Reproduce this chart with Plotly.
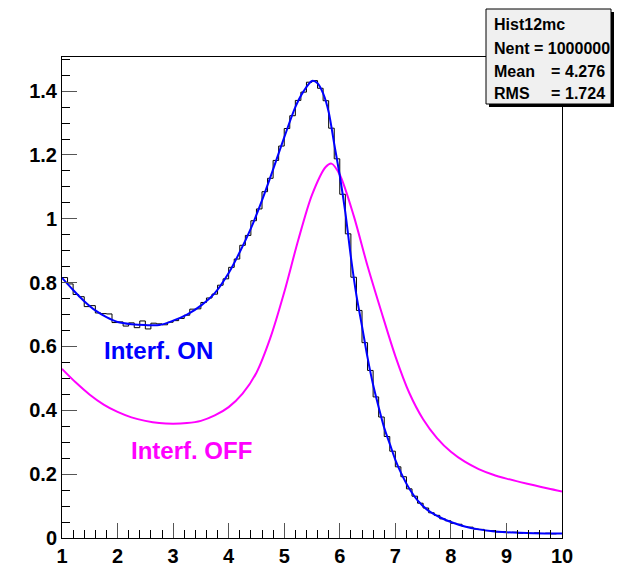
import plotly.graph_objects as go

# ---------------- data ----------------
# fitted curve with interference (blue)
on_x = [1.0, 1.2, 1.4, 1.6, 1.8, 2.0, 2.25, 2.5, 2.75, 3.0, 3.25, 3.5, 3.75, 4.0, 4.2, 4.4,
        4.6, 4.8, 5.0, 5.2, 5.35, 5.5, 5.6, 5.7, 5.8, 5.9, 6.0, 6.1, 6.2, 6.3, 6.4, 6.5,
        6.6, 6.7, 6.8, 6.9, 7.0, 7.1, 7.25, 7.4, 7.6, 7.8, 8.0, 8.25, 8.5, 8.75, 9.0, 9.5, 10.0]
on_y = [0.815, 0.777, 0.742, 0.713, 0.692, 0.677, 0.670, 0.667, 0.667, 0.681, 0.700, 0.728,
        0.767, 0.830, 0.896, 0.970, 1.058, 1.155, 1.255, 1.350, 1.400, 1.432, 1.425, 1.393,
        1.335, 1.235, 1.135, 1.020, 0.880, 0.760, 0.664, 0.565, 0.480, 0.410, 0.345, 0.295,
        0.245, 0.205, 0.155, 0.118, 0.085, 0.065, 0.050, 0.036, 0.027, 0.021, 0.018, 0.015, 0.014]

# curve without interference (magenta)
off_x = [1.0, 1.25, 1.5, 1.75, 2.0, 2.25, 2.5, 2.75, 3.0, 3.25, 3.5, 3.75, 4.0, 4.25, 4.5,
         4.75, 5.0, 5.25, 5.5, 5.75, 5.85, 6.0, 6.25, 6.5, 6.75, 7.0, 7.25,
         7.5, 7.75, 8.0, 8.25, 8.5, 8.75, 9.0, 9.25, 9.5, 9.75, 10.0]
off_y = [0.530, 0.487, 0.449, 0.418, 0.395, 0.378, 0.367, 0.360, 0.358, 0.360, 0.367, 0.384,
         0.410, 0.452, 0.518, 0.627, 0.770, 0.932, 1.075, 1.163, 1.173, 1.138,
         1.010, 0.852, 0.708, 0.570, 0.455, 0.372, 0.313, 0.270, 0.239, 0.216, 0.199, 0.186,
         0.175, 0.165, 0.155, 0.146]

# histogram Hist12mc: 90 bins from 1 to 10
hist_lo, hist_hi = 1.0, 10.0
hist_vals = [0.816, 0.796, 0.763, 0.756, 0.725, 0.728, 0.705, 0.703, 0.702, 0.675,
             0.677, 0.664, 0.674, 0.659, 0.680, 0.655, 0.673, 0.671, 0.668, 0.676,
             0.681, 0.688, 0.698, 0.717, 0.718, 0.738, 0.752, 0.764, 0.792, 0.812,
             0.848, 0.874, 0.917, 0.948, 0.994, 1.031, 1.085, 1.127, 1.183, 1.228,
             1.283, 1.323, 1.371, 1.397, 1.428, 1.433, 1.409, 1.370, 1.284, 1.188,
             1.077, 0.953, 0.817, 0.713, 0.612, 0.525, 0.442, 0.379, 0.318, 0.272,
             0.223, 0.192, 0.154, 0.131, 0.109, 0.094, 0.079, 0.071, 0.060, 0.054,
             0.046, 0.043, 0.036, 0.034, 0.028, 0.027, 0.023, 0.023, 0.019, 0.020,
             0.017, 0.018, 0.015, 0.017, 0.014, 0.016, 0.014, 0.015, 0.013, 0.014]

stats_title = "Hist12mc"
stats_rows = [("Nent", "1000000"), ("Mean", "4.276"), ("RMS", "1.724")]

x_range = [1, 10]
y_range = [0, 1.507]

# ---------------- figure ----------------
W, H = 624, 571
ML, MR, MT, MB = 62, 62, 57, 33
PW, PH = W - ML - MR, H - MT - MB


def px(x):
    return (x - ML) / PW


def py(y):
    return (H - MB - y) / PH


nb = len(hist_vals)
bw = (hist_hi - hist_lo) / nb
edges = [hist_lo + i * bw for i in range(nb + 1)]
hx = edges
hy = hist_vals + [hist_vals[-1]]

fig = go.Figure()
fig.add_trace(go.Scatter(x=off_x, y=off_y, mode="lines",
                         line=dict(color="#ff00ff", width=2, shape="spline", smoothing=0.8),
                         hoverinfo="skip"))
fig.add_trace(go.Scatter(x=hx, y=hy, mode="lines", line=dict(color="black", width=1, shape="hv"),
                         hoverinfo="skip"))
fig.add_trace(go.Scatter(x=on_x, y=on_y, mode="lines",
                         line=dict(color="#0000ff", width=2, shape="spline", smoothing=0.8),
                         hoverinfo="skip"))

tickfont = dict(family="Liberation Sans", size=20, color="black", weight="bold")
fig.update_layout(
    width=W, height=H, showlegend=False,
    margin=dict(l=ML, r=MR, t=MT, b=MB, pad=0, autoexpand=False),
    paper_bgcolor="white", plot_bgcolor="white",
    xaxis=dict(range=x_range, dtick=1, tick0=1, ticks="inside", ticklen=15, tickcolor="#555",
               tickwidth=1, showline=True, linecolor="black", linewidth=1, mirror=True,
               showgrid=False, zeroline=False, tickfont=tickfont, automargin=False,
               minor=dict(dtick=0.2, ticks="inside", ticklen=8, tickcolor="black", showgrid=False)),
    yaxis=dict(range=y_range, dtick=0.2, tick0=0, ticks="inside", ticklen=15, tickcolor="#555",
               tickwidth=1, showline=True, linecolor="black", linewidth=1, mirror=True,
               showgrid=False, zeroline=False, tickfont=tickfont, automargin=False,
               minor=dict(dtick=0.05, ticks="inside", ticklen=8, tickcolor="black", showgrid=False)),
)

# labels
fig.add_annotation(x=px(158), y=py(350), xref="paper", yref="paper", text="Interf. ON", showarrow=False,
                   xanchor="center", yanchor="middle",
                   font=dict(family="Liberation Sans", size=24, color="#0000ff", weight="bold"))
fig.add_annotation(x=px(191), y=py(450), xref="paper", yref="paper", text="Interf. OFF", showarrow=False,
                   xanchor="center", yanchor="middle",
                   font=dict(family="Liberation Sans", size=24, color="#ff00ff", weight="bold"))

# stats box with shadow
bx0, bx1, by0, by1 = 486, 611, 9, 104
fig.add_shape(type="rect", xref="paper", yref="paper", x0=px(bx0 + 3), x1=px(bx1 + 3), y0=py(by0 + 3),
              y1=py(by1 + 3), fillcolor="black", line=dict(width=0), layer="above")
fig.add_shape(type="rect", xref="paper", yref="paper", x0=px(bx0), x1=px(bx1), y0=py(by0), y1=py(by1),
              fillcolor="#f0f0f0", line=dict(color="black", width=1), layer="above")
sfont = dict(family="Liberation Sans", size=16, color="black", weight="bold")
fig.add_annotation(x=px(492), y=py(24), xref="paper", yref="paper", text=stats_title, showarrow=False,
                   xanchor="left", yanchor="middle", font=sfont)
row_y = [48, 71, 94]
for (lab, val), yy in zip(stats_rows, row_y):
    if lab == "Nent":
        fig.add_annotation(x=px(492), y=py(yy), xref="paper", yref="paper", text=f"{lab} = {val}",
                           showarrow=False, xanchor="left", yanchor="middle", font=sfont)
    else:
        fig.add_annotation(x=px(492), y=py(yy), xref="paper", yref="paper", text=lab, showarrow=False,
                           xanchor="left", yanchor="middle", font=sfont)
        fig.add_annotation(x=px(555), y=py(yy), xref="paper", yref="paper", text="=", showarrow=False,
                           xanchor="center", yanchor="middle", font=sfont)
        fig.add_annotation(x=px(607), y=py(yy), xref="paper", yref="paper", text=val, showarrow=False,
                           xanchor="right", yanchor="middle", font=sfont)

fig.write_html("out.html")
